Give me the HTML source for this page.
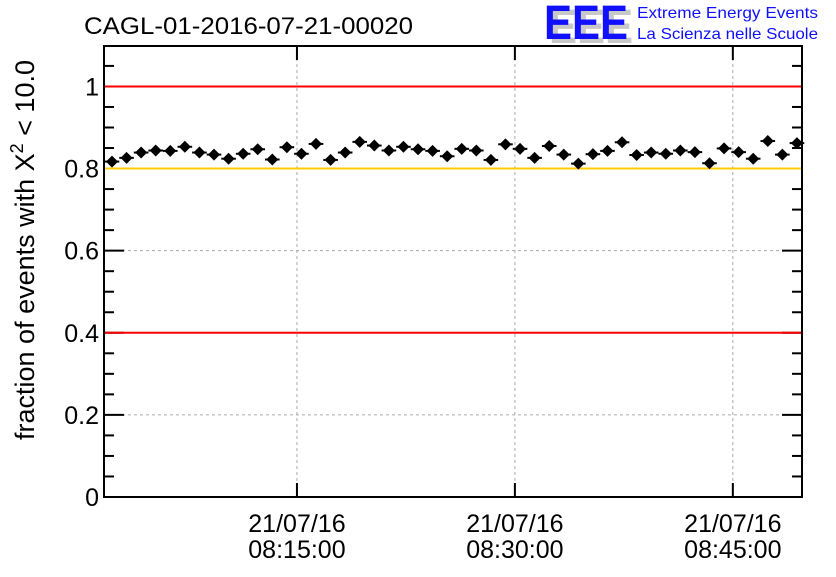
<!DOCTYPE html>
<html><head><meta charset="utf-8"><style>
body{margin:0;background:#fff}
svg text{font-family:"Liberation Sans",sans-serif}
</style></head><body>
<svg id="chart" width="836" height="572" xmlns="http://www.w3.org/2000/svg">
<rect width="836" height="572" fill="#fff"/>
<text x="84" y="34" font-size="24" textLength="329" lengthAdjust="spacingAndGlyphs">CAGL-01-2016-07-21-00020</text>
<g>
<text x="549" y="43" font-size="48" font-weight="bold" fill="#c8c8c8" textLength="84" lengthAdjust="spacingAndGlyphs">EEE</text>
<text x="544" y="39" font-size="48" font-weight="bold" fill="#1010ff" textLength="84" lengthAdjust="spacingAndGlyphs">EEE</text>
<text x="637" y="18" font-size="16" fill="#1010ff" textLength="181" lengthAdjust="spacingAndGlyphs">Extreme Energy Events</text>
<text x="637" y="39" font-size="16" fill="#1010ff" textLength="181" lengthAdjust="spacingAndGlyphs">La Scienza nelle Scuole</text>
</g>
<text transform="translate(34,250) rotate(-90)" text-anchor="middle" font-size="27">fraction of events with X<tspan dy="-11" font-size="18">2</tspan><tspan dy="11"> &lt; 10.0</tspan></text>
<g id="grid"></g><g id="axes"></g><g id="lines"></g><g id="marks"></g>
</svg>
<script>
const values=[0.817,0.826,0.839,0.844,0.843,0.853,0.839,0.834,0.824,0.836,0.847,0.822,0.852,0.836,0.860,0.821,0.839,0.865,0.856,0.844,0.853,0.847,0.843,0.830,0.848,0.844,0.821,0.859,0.848,0.826,0.855,0.834,0.812,0.835,0.843,0.864,0.833,0.839,0.836,0.844,0.840,0.813,0.849,0.840,0.824,0.867,0.834,0.862];
const yTicks=[0,0.2,0.4,0.6,0.8,1];
const yTickLabels=["0","0.2","0.4","0.6","0.8","1"];
const xTickMinutes=[15,30,45];
const xTickDates=["21/07/16","21/07/16","21/07/16"];
const xTickTimes=["08:15:00","08:30:00","08:45:00"];
const refLines=[1,0.8,0.4];
const refColors=["#ff0000","#ffcc00","#ff0000"];
const L=104,R=802,T=46,B=497;
const ymin=0,ymax=1.0985;
const tmin=1.72,tmax=49.76;
const firstT=2.27,stepT=1.003;
function y(v){return B-(v-ymin)/(ymax-ymin)*(B-T);}
function xt(t){return L+(t-tmin)/(tmax-tmin)*(R-L);}
const NS="http://www.w3.org/2000/svg";
function mk(p,tag,a){const e=document.createElementNS(NS,tag);for(const k in a)e.setAttribute(k,a[k]);document.getElementById(p).appendChild(e);return e;}
yTicks.forEach(v=>{if(v>0&&v<1){const g=mk('grid','line',{x1:L,x2:R,y1:y(v),y2:y(v),stroke:'#aaa','stroke-dasharray':'3,3'});

}});
xTickMinutes.forEach(t=>{const g=mk('grid','line',{x1:xt(t),x2:xt(t),y1:T,y2:B,stroke:'#aaa','stroke-dasharray':'3,3'});

});
const fr=mk('axes','rect',{x:L,y:T,width:R-L,height:B-T,fill:'none',stroke:'#000','stroke-width':2});


for(let v=0;v<=1.0501;v+=0.05){const isMaj=Math.abs(v*5-Math.round(v*5))<1e-6;const len=isMaj?20:10;
mk('axes','line',{x1:L,x2:L+len,y1:y(v),y2:y(v),stroke:'#000','stroke-width':2});
mk('axes','line',{x1:R,x2:R-len,y1:y(v),y2:y(v),stroke:'#000','stroke-width':2});}
yTicks.forEach((v,i)=>{const t=mk('axes','text',{x:L-5,y:y(v)+9,'text-anchor':'end','font-size':25});t.textContent=yTickLabels[i];

});
xTickMinutes.forEach((m,i)=>{const X=xt(m);
mk('axes','line',{x1:X,x2:X,y1:B,y2:B-14,stroke:'#000','stroke-width':2});
mk('axes','line',{x1:X,x2:X,y1:T,y2:T+14,stroke:'#000','stroke-width':2});
const a=mk('axes','text',{x:X,y:532,'text-anchor':'middle','font-size':25});a.textContent=xTickDates[i];


const b=mk('axes','text',{x:X,y:558,'text-anchor':'middle','font-size':25});b.textContent=xTickTimes[i];

});
refLines.forEach((v,i)=>{const l=mk('lines','line',{x1:L+1,x2:R-1,y1:y(v),y2:y(v),stroke:refColors[i],'stroke-width':2});

});
values.forEach((v,i)=>{const X=xt(firstT+i*stepT),Y=y(v);
const g=mk('marks','g',{});


const ln=document.createElementNS(NS,'line');
ln.setAttribute('x1',X-7.3);ln.setAttribute('x2',X+7.3);ln.setAttribute('y1',Y);ln.setAttribute('y2',Y);ln.setAttribute('stroke','#000');ln.setAttribute('stroke-width',2);g.appendChild(ln);
const p=document.createElementNS(NS,'polygon');
p.setAttribute('points',`${X},${Y-6} ${X+6},${Y} ${X},${Y+6} ${X-6},${Y}`);p.setAttribute('fill','#000');g.appendChild(p);});
</script>
</body></html>
